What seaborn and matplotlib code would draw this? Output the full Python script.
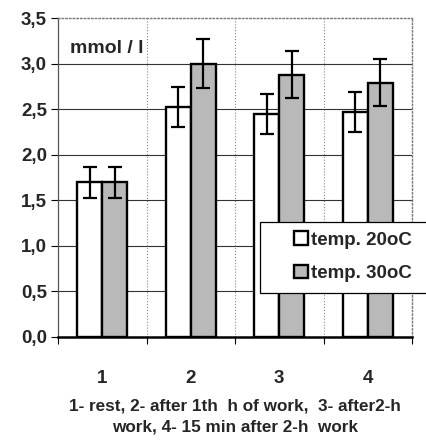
import matplotlib
matplotlib.use("Agg")
import matplotlib.pyplot as plt
from matplotlib.patches import Rectangle
import seaborn as sns
import pandas as pd

categories = ["1", "2", "3", "4"]
series_names = ["temp. 20oC", "temp. 30oC"]
values_20 = [1.70, 2.52, 2.45, 2.47]
values_30 = [1.70, 3.00, 2.88, 2.79]
err_20 = [0.17, 0.22, 0.22, 0.22]
err_30 = [0.17, 0.27, 0.26, 0.26]
y_ticks = [0.0, 0.5, 1.0, 1.5, 2.0, 2.5, 3.0, 3.5]
y_tick_labels = ["0,0", "0,5", "1,0", "1,5", "2,0", "2,5", "3,0", "3,5"]
unit_label = "mmol / l"
x_title = "1- rest, 2- after 1th  h of work,  3- after2-h\nwork, 4- 15 min after 2-h  work"

df = pd.DataFrame({
    "cat": categories * 2,
    "series": [series_names[0]] * 4 + [series_names[1]] * 4,
    "value": values_20 + values_30,
})

sns.set_style("white")
plt.rcParams["font.family"] = ["Liberation Sans", "DejaVu Sans"]

fig = plt.figure(figsize=(4.27, 4.43), dpi=100)
ax = fig.add_axes([58 / 427, 1 - 337 / 443, (412 - 58) / 427, (337 - 18) / 443])

palette = {series_names[0]: "white", series_names[1]: "#b9b9b9"}
sns.barplot(data=df, x="cat", y="value", hue="series", order=categories,
            hue_order=series_names, palette=palette, width=0.57,
            edgecolor="black", linewidth=1.7, ax=ax, errorbar=None,
            saturation=1, zorder=3)

for container, errs in zip(ax.containers, [err_20, err_30]):
    for patch, e in zip(container.patches, errs):
        xc = patch.get_x() + patch.get_width() / 2
        ax.errorbar(xc, patch.get_height(), yerr=e, fmt="none", ecolor="black",
                    elinewidth=1.6, capsize=5, capthick=1.6, zorder=4)

ax.set_ylim(0, 3.5)
ax.set_xlim(-0.5, 3.5)
ax.set_yticks(y_ticks)
ax.set_yticklabels(y_tick_labels, fontsize=13.5, fontweight="bold")
ax.tick_params(axis="y", length=5, width=0.8, color="black", left=True, pad=3)
ax.tick_params(axis="x", length=0, pad=24)
for lbl in ax.get_xticklabels():
    lbl.set_fontsize(13.5)
    lbl.set_fontweight("bold")
ax.set_xticks([-0.5, 0.5, 1.5, 2.5, 3.5], minor=True)
ax.tick_params(axis="x", which="minor", length=5, width=0.8, color="black", bottom=True)

for y in y_ticks[1:-1]:
    ax.axhline(y, color="#333333", linewidth=0.8, zorder=1)
for x in [0.5, 1.5, 2.5]:
    ax.axvline(x, color="#888888", linewidth=0.8, linestyle=":", zorder=1)

for side in ["top", "right"]:
    ax.spines[side].set_color("#777777")
    ax.spines[side].set_linestyle(":")
    ax.spines[side].set_linewidth(1.0)
ax.spines["left"].set_color("#555555")
ax.spines["left"].set_linewidth(0.9)
ax.spines["bottom"].set_color("black")
ax.spines["bottom"].set_linewidth(1.8)

ax.set_ylabel("")
ax.set_xlabel(x_title, fontsize=12.3, fontweight="bold", linespacing=1.5, labelpad=8)
ax.text(0.035, 0.905, unit_label, transform=ax.transAxes, fontsize=14,
        fontweight="bold", ha="left", va="center", zorder=5)

handles, labels = ax.get_legend_handles_labels()
if ax.legend_:
    ax.legend_.remove()

frame = Rectangle((260 / 427, 1 - 293 / 443), 180 / 427, 71 / 443,
                  transform=fig.transFigure, facecolor="white",
                  edgecolor="black", linewidth=0.9, zorder=9)
fig.add_artist(frame)
leg = fig.legend(handles, labels, loc="upper left",
                 bbox_to_anchor=(285 / 427, 1 - 222 / 443),
                 frameon=False, prop={"size": 13.5, "weight": "bold"},
                 handlelength=0.75, handleheight=0.75, handletextpad=0.15,
                 labelspacing=0.85, borderpad=0.5, borderaxespad=0)
leg.set_zorder(10)

fig.savefig("out.png", dpi=100)
